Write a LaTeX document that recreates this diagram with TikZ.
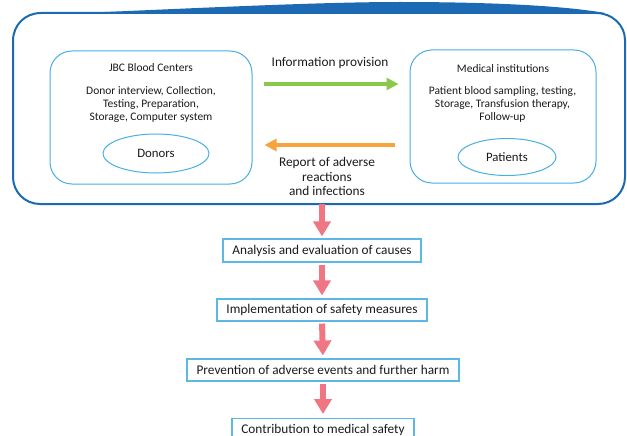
\documentclass[tikz,border=0pt]{standalone}
\usepackage{fontspec}
\setmainfont{Carlito}
\usetikzlibrary{arrows.meta,shapes.geometric,calc}
\definecolor{outerblue}{HTML}{1B6AB3}
\definecolor{innerblue}{HTML}{48AEE3}
\definecolor{boxblue}{HTML}{5DB8E6}
\definecolor{arrgreen}{HTML}{8CC84B}
\definecolor{arrorange}{HTML}{F6A53C}
\definecolor{arrpink}{HTML}{EF7682}
\definecolor{txt}{HTML}{1A1A1A}
\tikzset{
  innerbox/.style={draw=innerblue,line width=1pt,rounded corners=22pt,inner sep=0pt},
  oval/.style={draw=innerblue,line width=1pt,ellipse,inner sep=0pt,font=\fontsize{12.8}{15}\selectfont,text=txt},
  smalltext/.style={align=center,font=\fontsize{11.5}{12.6}\selectfont,text=txt,inner sep=0pt},
  midtext/.style={align=center,font=\fontsize{13.3}{14.4}\selectfont,text=txt,inner sep=0pt},
  stepbox/.style={draw=boxblue,line width=1.1pt,inner sep=0pt,font=\fontsize{13.3}{15}\selectfont,text=txt},
  pinkarrow/.style={draw=arrpink,line width=6pt,-{Triangle[width=17pt,length=15pt]}},
  greenarrow/.style={draw=arrgreen,line width=4pt,-{Triangle[width=12pt,length=12pt]}},
  orangearrow/.style={draw=arrorange,line width=4pt,-{Triangle[width=12pt,length=12pt]}},
}
\begin{document}
\begin{tikzpicture}[x=1pt,y=-1pt]
\useasboundingbox (0,0) rectangle (627,436);
% outer hand-drawn border
\draw[outerblue,line width=2pt]
  (13,41) .. controls (13,25) and (25,13) .. (41,13)
  -- (596,13)
  .. controls (612,13) and (625,25) .. (625,40)
  -- (625,177)
  .. controls (625,192) and (613,204) .. (598,204)
  -- (40,204)
  .. controls (25,204) and (13,192) .. (13,177)
  -- cycle;
\fill[outerblue] (70,13.5) .. controls (200,8) and (320,2) .. (400,2)
  .. controls (480,2) and (560,5) .. (605,13) -- cycle;
\coordinate (outerbottom) at (322,204);

% inner boxes
\node[innerbox,minimum width=202pt,minimum height=133pt] (jbc) at (151,117.5) {};
\node[innerbox,minimum width=186pt,minimum height=133pt] (med) at (503,116.5) {};

\node[smalltext] (jbctitle) at (151,67.5) {JBC Blood Centers};
\node[smalltext] (jbcbody) at (151,104.5) {Donor interview, Collection,\\Testing, Preparation,\\Storage, Computer system};
\node[oval,minimum width=106pt,minimum height=39pt] (donors) at (156,153.5) {Donors};

\node[smalltext] (medtitle) at (503,68.5) {Medical institutions};
\node[smalltext] (medbody) at (502.5,104.5) {Patient blood sampling, testing,\\Storage, Transfusion therapy,\\Follow-up};
\node[oval,minimum width=98pt,minimum height=37pt] (patients) at (507,157) {Patients};

% horizontal arrows
\node[midtext] (info) at (330,63) {Information provision};
\draw[greenarrow,shorten <=11pt,shorten >=11pt] (jbc.east |- 0,84) -- (med.west |- 0,84);
\draw[orangearrow,shorten <=15pt,shorten >=12pt] (med.west |- 0,145) -- (jbc.east |- 0,145);
\node[midtext] (report) at (327,176.5) {Report of adverse\\reactions\\and infections};

% flow boxes
\node[stepbox,minimum width=198pt,minimum height=23pt] (s1) at (322,250.5) {Analysis and evaluation of causes};
\node[stepbox,minimum width=210pt,minimum height=22pt] (s2) at (322,310) {Implementation of safety measures};
\node[stepbox,minimum width=272pt,minimum height=22pt] (s3) at (323,370) {Prevention of adverse events and further harm};
\node[stepbox,minimum width=182pt,minimum height=24pt,anchor=north] (s4) at (323,418) {};
\node[font=\fontsize{13.3}{15}\selectfont,text=txt,inner sep=0pt] (s4t) at (323,429.5) {Contribution to medical safety};

\draw[pinkarrow,shorten >=2pt] (outerbottom) -- (s1.north);
\draw[pinkarrow,shorten <=2pt,shorten >=3pt] (s1.south) -- (s2.north);
\draw[pinkarrow,shorten <=2pt,shorten >=3pt] (s2.south) -- (s3.north);
\draw[pinkarrow,shorten <=2pt,shorten >=4pt] (s3.south) -- (s4.north);
\end{tikzpicture}
\end{document}
